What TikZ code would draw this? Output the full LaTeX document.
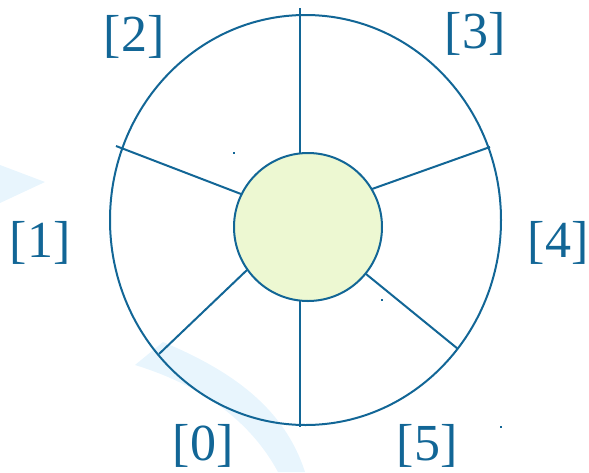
\documentclass[tikz,border=0pt]{standalone}
\usepackage{fontspec}
\setmainfont{Liberation Serif}
\usetikzlibrary{positioning,calc}

\definecolor{ringblue}{RGB}{18,102,150}
\definecolor{hubgreen}{RGB}{237,248,210}
\definecolor{swoosh}{RGB}{232,245,253}

\begin{document}
\begin{tikzpicture}[
  x=1pt, y=-1pt,
  ring/.style={draw=ringblue, line width=2pt},
  hub/.style={circle, draw=ringblue, line width=2pt, fill=hubgreen,
              minimum size=148pt, inner sep=0pt},
  idx/.style={text=ringblue, font=\fontsize{52}{62}\selectfont, inner sep=0pt},
  speck/.style={fill=ringblue}
]
\path[use as bounding box] (0,0) rectangle (589,472);

% Background swooshes
\fill[swoosh] (0,165) -- (45,182) -- (0,203) -- cycle;
\fill[swoosh] (163,342) .. controls (235,372) and (285,410) .. (305,472)
  -- (278,472) .. controls (250,420) and (200,385) .. (135,365) -- cycle;

% Outer ring
\draw[ring] (305.5,220) ellipse [x radius=195.5pt, y radius=205pt];

% Hub
\node[hub] (hub) at (308,227) {};

% Spoke ends
\coordinate (in0) at (300,301);  \coordinate (out0) at (300,427);
\coordinate (in1) at (247,270);  \coordinate (out1) at (159,354);
\coordinate (in2) at (241,194);  \coordinate (out2) at (116,146);
\coordinate (in3) at (300,153);  \coordinate (out3) at (300,8);
\coordinate (in4) at (372,189);  \coordinate (out4) at (490,147);
\coordinate (in5) at (366,274);  \coordinate (out5) at (458,349);

% Spokes
\foreach \i in {0,...,5}
  \draw[ring] (in\i) -- (out\i);

% Slot labels
\node[idx] (lbl0) at (203,446) {[0]};
\node[idx] (lbl1) at (40,243)  {[1]};
\node[idx] (lbl2) at (134,37)  {[2]};
\node[idx] (lbl3) at (475,34)  {[3]};
\node[idx] (lbl4) at (558,243) {[4]};
\node[idx] (lbl5) at (427,446) {[5]};

% Specks
\fill[speck] (233,152) rectangle ++(2,2);
\fill[speck] (381,299) rectangle ++(2,2);
\fill[speck] (500,426) rectangle ++(2,2);
\end{tikzpicture}
\end{document}
